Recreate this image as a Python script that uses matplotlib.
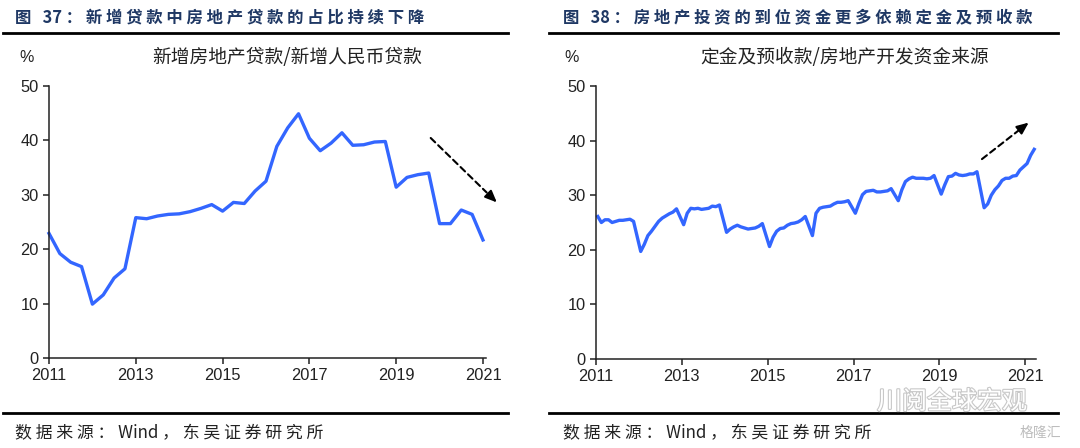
import matplotlib.pyplot as plt
import numpy as np
from matplotlib.lines import Line2D
import matplotlib.patheffects as pe

plt.rcParams['font.family'] = ['Liberation Sans', 'Noto Sans CJK SC', 'DejaVu Sans']

W, H = 1080, 448
BLUE = '#3366FF'
NAVY = '#1F3864'

# left: quarterly share of new property loans in new RMB loans, 2011Q1 .. 2021Q1
loan_share = [22.9, 19.2, 17.6, 16.8, 9.9, 11.6, 14.7, 16.4,
              25.8, 25.6, 26.1, 26.4, 26.5, 26.9, 27.5, 28.2,
              27.0, 28.6, 28.4, 30.7, 32.5, 38.9, 42.3, 44.9,
              40.4, 38.1, 39.5, 41.4, 39.1, 39.2, 39.7, 39.8,
              31.4, 33.2, 33.7, 34.0, 24.7, 24.7, 27.2, 26.4,
              21.7]

# right: monthly (Feb..Dec) deposits & advance receipts / property funding sources
deposit_years = [2011, 2012, 2013, 2014, 2015, 2016, 2017, 2018, 2019, 2020, 2021]
deposit_share = [
    [26.1, 25.0, 25.5, 25.5, 25.0, 25.2, 25.4, 25.4, 25.5, 25.6, 25.2],
    [19.7, 21.0, 22.6, 23.4, 24.3, 25.2, 25.8, 26.2, 26.6, 26.9, 27.5],
    [24.6, 26.7, 27.6, 27.5, 27.6, 27.4, 27.5, 27.6, 28.0, 27.9, 28.2],
    [23.2, 23.8, 24.2, 24.5, 24.2, 24.0, 23.8, 23.9, 24.0, 24.3, 24.8],
    [20.6, 22.3, 23.4, 23.9, 24.0, 24.5, 24.8, 24.9, 25.1, 25.5, 26.1],
    [22.6, 26.7, 27.6, 27.8, 27.9, 28.0, 28.4, 28.7, 28.7, 28.8, 29.0],
    [26.7, 28.5, 30.1, 30.7, 30.8, 30.9, 30.6, 30.6, 30.7, 30.8, 31.2],
    [29.0, 31.0, 32.5, 33.0, 33.3, 33.1, 33.1, 33.1, 33.0, 33.1, 33.6],
    [30.2, 31.9, 33.4, 33.5, 34.0, 33.7, 33.6, 33.7, 33.9, 33.9, 34.3],
    [27.7, 28.4, 30.0, 31.0, 31.7, 32.7, 33.1, 33.1, 33.5, 33.6, 34.6],
    [35.8, 37.3, 38.4],
]

year_ticks = [2011, 2013, 2015, 2017, 2019, 2021]
y_ticks = [0, 10, 20, 30, 40, 50]

titles = ['图 37：新增贷款中房地产贷款的占比持续下降',
          '图 38：房地产投资的到位资金更多依赖定金及预收款']
subtitles = ['新增房地产贷款/新增人民币贷款', '定金及预收款/房地产开发资金来源']
source = '数据来源：Wind，东吴证券研究所'

# trend arrows (start, end) in data units
arrow_left = ((2019.75, 40.8), (2021.32, 28.6))
arrow_right = ((2019.94, 36.3), (2021.08, 43.3))

fig = plt.figure(figsize=(W / 100, H / 100), dpi=100)


def px(x, y):
    return x / W, 1 - y / H


def spaced(s):
    return ' '.join(list(s)).replace('3 7', '37').replace('3 8', '38').replace('W i n d', 'Wind')


def style_axis(ax, xmax):
    ax.set_xlim(2011, xmax)
    ax.set_ylim(0, 50)
    ax.set_xticks(year_ticks)
    ax.set_yticks(y_ticks)
    for s in ['top', 'right']:
        ax.spines[s].set_visible(False)
    for s in ['left', 'bottom']:
        ax.spines[s].set_linewidth(1.1)
        ax.spines[s].set_color('#222222')
    ax.tick_params(direction='out', length=4.5, width=1.1, labelsize=11.8,
                   colors='#222222', pad=3)


def trend_arrow(ax, start, end):
    (x0, y0), (x1, y1) = start, end
    xm, ym = x0 + (x1 - x0) * 0.88, y0 + (y1 - y0) * 0.88
    ax.annotate('', xy=(xm, ym), xytext=(x0, y0), annotation_clip=False,
                arrowprops=dict(arrowstyle='-', color='black', lw=1.5, ls=(0, (3, 2))))
    ax.annotate('', xy=(x1, y1), xytext=(xm, ym), annotation_clip=False,
                arrowprops=dict(arrowstyle='-|>,head_length=0.7,head_width=0.3',
                                color='black', lw=1.5, shrinkA=0, shrinkB=0))


# left panel
axl = fig.add_axes([49 / W, 1 - 358 / H, (486 - 49) / W, (358 - 86) / H])
xq = 2011 + np.arange(len(loan_share)) / 4
axl.plot(xq, loan_share, color=BLUE, lw=2.4, clip_on=False)
style_axis(axl, 2021.07)
trend_arrow(axl, *arrow_left)

# right panel
axr = fig.add_axes([596 / W, 1 - 359 / H, (1036 - 596) / W, (359 - 86) / H])
xm, ym = [], []
for yr, vals in zip(deposit_years, deposit_share):
    for k, v in enumerate(vals):
        xm.append(yr + (k + 0.5) / 12)
        ym.append(v)
axr.plot(xm, ym, color=BLUE, lw=2.4, clip_on=False)
style_axis(axr, 2021.25)
trend_arrow(axr, *arrow_right)

# headers, rules, footers
for i, (x0, x1) in enumerate([(3, 508), (549, 1058)]):
    tx = [15, 563][i]
    fig.text(*px(tx, 17), spaced(titles[i]), fontsize=11.8, fontweight='bold',
             color=NAVY, va='center', ha='left',
             family=['Noto Sans CJK SC', 'DejaVu Sans'])
    fig.add_artist(Line2D([x0 / W, x1 / W], [1 - 33 / H] * 2, lw=2, color='black'))
    fig.add_artist(Line2D([x0 / W, x1 / W], [1 - 413 / H] * 2, lw=2, color='black'))
    fig.text(*px([27, 572][i], 57), '%', fontsize=11.5, va='center', ha='center',
             color='#222222')
    fig.text(*px([287, 845][i], 58), subtitles[i], fontsize=13.5, va='center',
             ha='center', color='#222222', family=['Noto Sans CJK SC', 'DejaVu Sans'])
    fig.text(*px(tx, 433), spaced(source), fontsize=12.2, va='center', ha='left',
             color='#222222', family=['Noto Sans CJK SC', 'DejaVu Sans'])

# watermarks
fig.text(*px(952, 402), '川阅全球宏观', fontsize=18, color='white', va='center',
         ha='center', family=['Noto Sans CJK SC', 'DejaVu Sans'],
         path_effects=[pe.withStroke(linewidth=1.6, foreground='#c8c8c8')])
fig.text(*px(1040, 433), '格隆汇', fontsize=10, color='#bdbdbd', va='center',
         ha='center', family=['Noto Sans CJK SC', 'DejaVu Sans'])

fig.savefig('out.png', dpi=100)
